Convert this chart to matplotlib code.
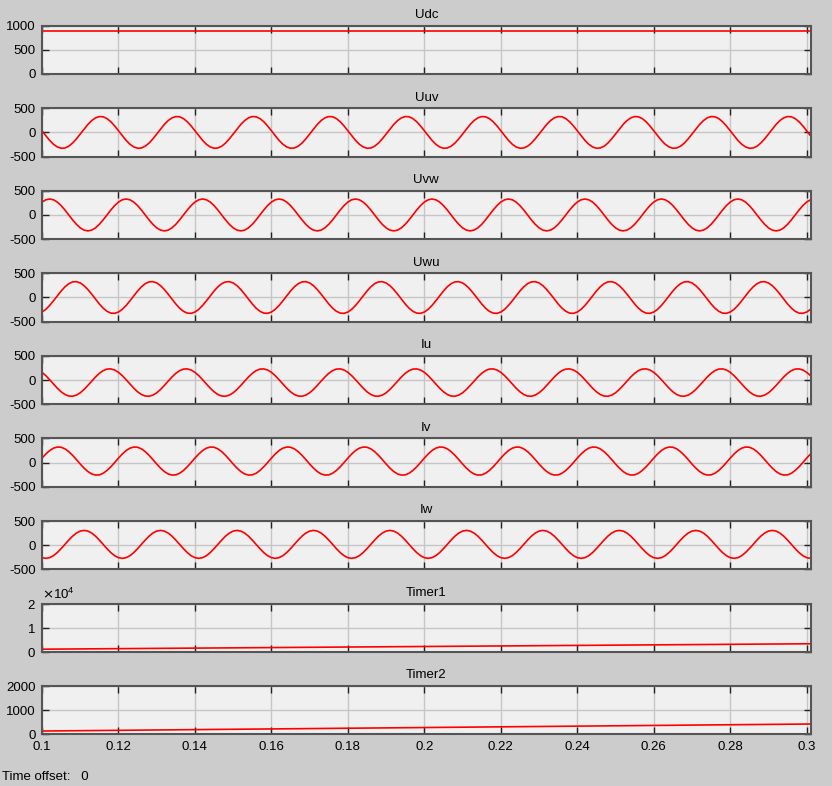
import numpy as np
import matplotlib
matplotlib.use("Agg")
import matplotlib.pyplot as plt

plt.rcParams['font.family'] = ['Liberation Sans', 'DejaVu Sans']
plt.rcParams['font.size'] = 9.5
plt.rcParams['axes.unicode_minus'] = False

# one 20 ms period of each trace, every 1 ms (t = 0.100 s ... 0.119 s);
# the scope shows the same period repeated 10 times up to 0.3 s
uuv_cycle = [34, -69, -165, -245, -301, -328, -323, -286, -221, -134,
             -34, 69, 165, 245, 301, 328, 323, 286, 221, 134]
uvw_cycle = [267, 314, 330, 314, 267, 194, 102, 0, -102, -194,
             -267, -314, -330, -314, -267, -194, -102, 0, 102, 194]
uwu_cycle = [-301, -245, -165, -69, 34, 134, 221, 286, 323, 328,
             301, 245, 165, 69, -34, -134, -221, -286, -323, -328]
iu_cycle = [160, 91, 7, -82, -168, -243, -299, -331, -335, -312,
            -264, -195, -111, -22, 64, 139, 195, 227, 231, 208]
iv_cycle = [93, 178, 249, 299, 322, 318, 285, 227, 151, 63,
            -29, -114, -185, -235, -258, -254, -221, -163, -87, 1]
iw_cycle = [-259, -273, -259, -218, -154, -73, 16, 105, 186, 250,
            291, 305, 291, 250, 186, 105, 16, -73, -154, -218]

# slow signals: value at start and end of the window
ramp_t = [0.1, 0.301]
udc = [900, 900]
timer1 = [1100, 3350]
timer2 = [140, 430]

titles = ['Udc', 'Uuv', 'Uvw', 'Uwu', 'Iu', 'Iv', 'Iw', 'Timer1', 'Timer2']
xticks = [0.1, 0.12, 0.14, 0.16, 0.18, 0.2, 0.22, 0.24, 0.26, 0.28, 0.3]
xticklabels = ['0.1', '0.12', '0.14', '0.16', '0.18', '0.2', '0.22', '0.24', '0.26', '0.28', '0.3']

n_samples = 202
t = 0.1 + 0.001 * np.arange(n_samples)
waves = [np.tile(c, 11)[:n_samples] for c in
         (uuv_cycle, uvw_cycle, uwu_cycle, iu_cycle, iv_cycle, iw_cycle)]

W, H = 832, 786
fig = plt.figure(figsize=(W / 100, H / 100), dpi=100, facecolor='#cccccc')

left_px, right_px = 42, 810.7
top0, step, height = 25.7, 82.55, 48.3

axes = []
for i, name in enumerate(titles):
    top = top0 + step * i
    ax = fig.add_axes([left_px / W, 1 - (top + height) / H,
                       (right_px - left_px) / W, height / H])
    ax.set_facecolor('#f0f0f0')
    for s in ax.spines.values():
        s.set_color('#555555')
        s.set_linewidth(1.5)
    ax.set_xlim(0.1, 0.30105)
    ax.set_xticks(xticks)
    ax.grid(True, color='#c6c6c6', linewidth=1.0)
    ax.set_axisbelow(True)
    ax.tick_params(direction='in', length=5, width=1, color='#222222',
                   top=True, right=True, labelsize=9.5, pad=4.5)
    ax.set_title(name, fontsize=9.5, pad=5.5)
    if i < len(titles) - 1:
        ax.tick_params(labelbottom=False)
    else:
        ax.set_xticklabels(xticklabels)
    axes.append(ax)

kw = dict(color='#ff0000', linewidth=1.2, clip_on=True)

axes[0].plot(ramp_t, udc, **kw)
axes[0].set_ylim(0, 1000)
axes[0].set_yticks([0, 500, 1000])

for ax, w in zip(axes[1:7], waves):
    ax.plot(t, w, **kw)
    ax.set_ylim(-500, 500)
    ax.set_yticks([-500, 0, 500])

axes[7].plot(ramp_t, timer1, **kw)
axes[7].set_ylim(0, 20000)
axes[7].set_yticks([0, 10000, 20000])
axes[7].ticklabel_format(axis='y', style='sci', scilimits=(0, 0), useMathText=True)
axes[7].yaxis.get_offset_text().set_fontsize(9.5)

axes[8].plot(ramp_t, timer2, **kw)
axes[8].set_ylim(0, 2000)
axes[8].set_yticks([0, 1000, 2000])

fig.text(2 / W, 1 - 777 / H, 'Time offset:   0', fontsize=9.5, va='center', ha='left')

fig.savefig('out.png', dpi=100, facecolor=fig.get_facecolor())
